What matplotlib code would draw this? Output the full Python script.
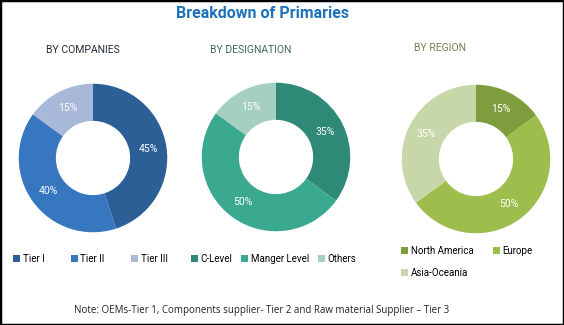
import matplotlib
matplotlib.use("Agg")
import matplotlib.pyplot as plt
from matplotlib.patches import Rectangle

plt.rcParams['font.family'] = ['Roboto', 'DejaVu Sans']

W, H = 564, 325

# data for the three donuts
company_labels = ['Tier I', 'Tier II', 'Tier III']
company_share = [45, 40, 15]
company_colors = ['#2d5f97', '#3677bf', '#a7b8d8']

designation_labels = ['C-Level', 'Manger Level', 'Others']
designation_share = [35, 50, 15]
designation_colors = ['#2e8a77', '#3ba890', '#a5cfc1']

region_labels = ['North America', 'Europe', 'Asia-Oceania']
region_share = [15, 50, 35]
region_colors = ['#7e9e3e', '#9dbd4d', '#c8d7a9']

fig = plt.figure(figsize=(W / 100, H / 100), dpi=100)
fig.patch.set_facecolor('white')


def px_axes(cx, cy, r):
    # square axes centered at pixel (cx, cy) from the top-left corner
    return fig.add_axes([(cx - r) / W, 1 - (cy + r) / H, 2 * r / W, 2 * r / H])


def donut(cx, cy, values, colors):
    ax = px_axes(cx, cy, 75)
    wedges, _, autotexts = ax.pie(values, colors=colors, startangle=90, counterclock=False,
                                  radius=1.0, autopct='%d%%', pctdistance=0.75,
                                  wedgeprops=dict(width=0.5, edgecolor='none'))
    for t in autotexts:
        t.set_color('white')
        t.set_fontsize(7.5)
    ax.set_xlim(-1.01, 1.01)
    ax.set_ylim(-1.01, 1.01)
    ax.set_aspect('equal')
    ax.axis('off')
    return wedges


w1 = donut(93, 158, company_share, company_colors)
w2 = donut(276, 157, designation_share, designation_colors)
w3 = donut(476, 159, region_share, region_colors)

fig.text(262 / W, 1 - 14 / H, 'Breakdown of Primaries', ha='center', va='center',
         fontsize=11.5, fontweight='bold', color='#1f72b8')

fig.text(83 / W, 1 - 50 / H, 'BY COMPANIES', ha='center', va='center',
         fontsize=7.5, color='#222b38')
fig.text(251 / W, 1 - 50 / H, 'BY DESIGNATION', ha='center', va='center',
         fontsize=7.5, color='#3f6a62')
fig.text(440 / W, 1 - 48 / H, 'BY REGION', ha='center', va='center',
         fontsize=7.5, color='#7c7c4e')

leg_kw = dict(frameon=False, fontsize=7, handlelength=0.7, handleheight=0.7,
              handletextpad=0.3, borderpad=0, borderaxespad=0, loc='center left')

fig.legend(w1, company_labels, ncol=3, columnspacing=2.7,
           bbox_to_anchor=(13 / W, 1 - 259 / H), **leg_kw)
fig.legend(w2, designation_labels, ncol=3, columnspacing=0.9,
           bbox_to_anchor=(191 / W, 1 - 259 / H), **leg_kw)
fig.legend(w3[:2], region_labels[:2], ncol=2, columnspacing=2.0,
           bbox_to_anchor=(401 / W, 1 - 251 / H), **leg_kw)
fig.legend(w3[2:], region_labels[2:], ncol=1,
           bbox_to_anchor=(401 / W, 1 - 273 / H), **leg_kw)

fig.text(262 / W, 1 - 311 / H,
         'Note: OEMs-Tier 1, Components supplier- Tier 2 and Raw material Supplier \u2013 Tier 3',
         ha='center', va='center', fontsize=7, color='#222222', family='Open Sans')

fig.patches.append(Rectangle((0, 0), 1, 1, transform=fig.transFigure, fill=False,
                             edgecolor='black', linewidth=2.5))

fig.savefig('out.png', dpi=100)
